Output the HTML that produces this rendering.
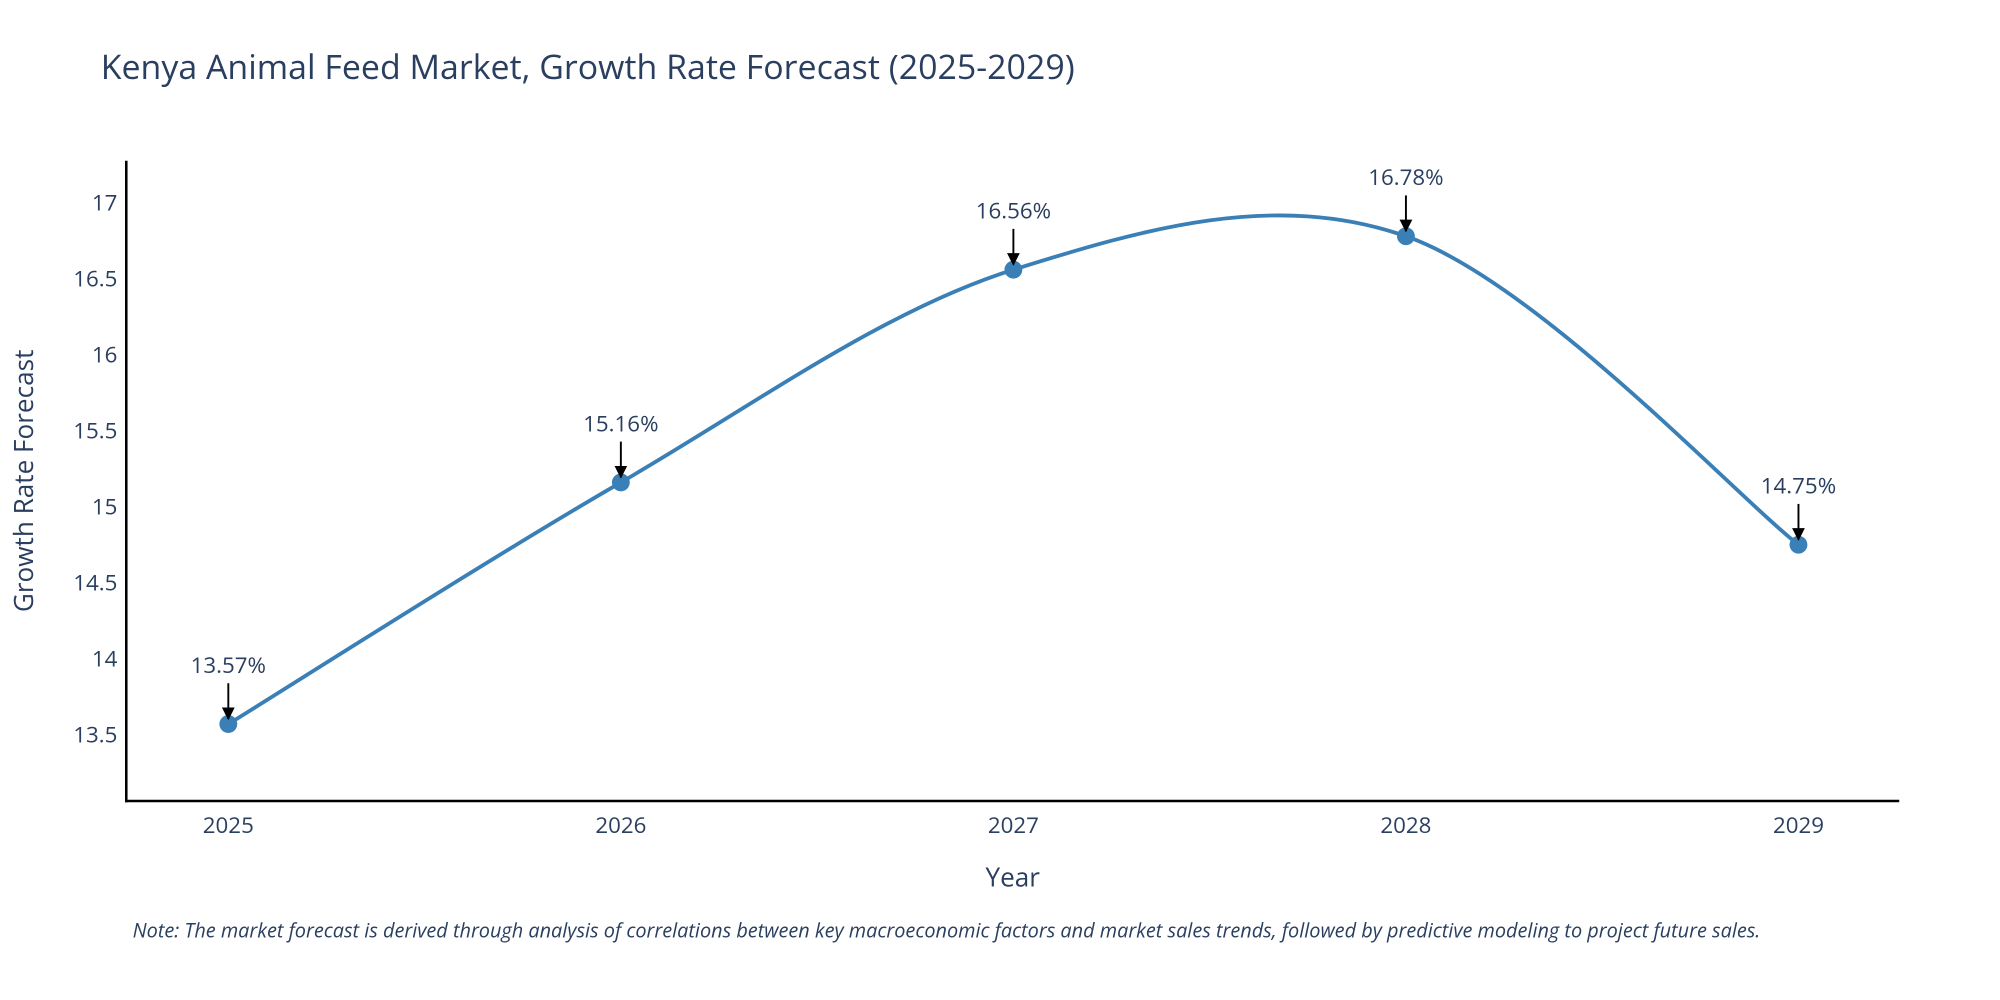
<!DOCTYPE html>
<html><head><meta charset="utf-8"><style>
html,body{margin:0;padding:0;background:#fff;}
svg{display:block;font-family:"Open Sans","Liberation Sans",sans-serif;}
</style></head><body>
<svg id="chart" width="2000" height="1000" viewBox="0 0 1568 784" xmlns="http://www.w3.org/2000/svg">
<defs><marker id="ah" markerWidth="10" markerHeight="10" refX="9" refY="5" orient="auto" markerUnits="userSpaceOnUse" viewBox="0 0 10 10"><path d="M0,0 L10,5 L0,10 z" fill="#000"/></marker></defs>
<text x="79" y="62" font-size="26.6" fill="#2a3f5f">Kenya Animal Feed Market, Growth Rate Forecast (2025-2029)</text>
<g id="yticks"></g>
<g id="xticks"></g>
<line x1="99" y1="126" x2="99" y2="629" stroke="#000" stroke-width="2"/>
<line x1="98" y1="628" x2="1489" y2="628" stroke="#000" stroke-width="2"/>
<text transform="translate(26,377) rotate(-90)" text-anchor="middle" font-size="20.5" fill="#2a3f5f">Growth Rate Forecast</text>
<text x="794" y="695" text-anchor="middle" font-size="20.5" fill="#2a3f5f">Year</text>
<path id="line" fill="none" stroke="#3a7fb5" stroke-width="3"/>
<g id="marks"></g>
<text x="104" y="735" font-size="15.6" font-style="italic" fill="#2a3f5f">Note: The market forecast is derived through analysis of correlations between key macroeconomic factors and market sales trends, followed by predictive modeling to project future sales.</text>
</svg>
<script>
const years = [2025, 2026, 2027, 2028, 2029];
const values = [13.57, 15.16, 16.56, 16.78, 14.75];
const yTickValues = [13.5, 14, 14.5, 15, 15.5, 16, 16.5, 17];
const yTickLabels = ["13.5", "14", "14.5", "15", "15.5", "16", "16.5", "17"];
const NS = "http://www.w3.org/2000/svg";
const xs = v => 179 + (v - 2025) * 307.75;
const ys = v => 576 - (v - 13.5) * (576 - 159) / 3.5;
function mk(tag, attrs, parent, txt) {
  const e = document.createElementNS(NS, tag);
  for (const k in attrs) e.setAttribute(k, attrs[k]);
  if (txt !== undefined) e.textContent = txt;
  parent.appendChild(e); return e;
}
const yt = document.getElementById('yticks');
yTickValues.forEach((v, i) => {
  const t = mk('text', {x: 92, y: ys(v) + 6, 'text-anchor': 'end', 'font-size': 17.5, fill: '#2a3f5f'}, yt, yTickLabels[i]);
  
  
});
const xt = document.getElementById('xticks');
years.forEach(y => {
  const t = mk('text', {x: xs(y), y: 653, 'text-anchor': 'middle', 'font-size': 17.5, fill: '#2a3f5f'}, xt, String(y));
  
  
});
const pts = years.map((y, i) => [xs(y), ys(values[i])]);
let d = `M${pts[0][0]},${pts[0][1]}`;
for (let i = 0; i < pts.length - 1; i++) {
  const p0 = pts[Math.max(0, i - 1)], p1 = pts[i], p2 = pts[i + 1], p3 = pts[Math.min(pts.length - 1, i + 2)];
  const c1 = [p1[0] + (p2[0] - p0[0]) / 6, p1[1] + (p2[1] - p0[1]) / 6];
  const c2 = [p2[0] - (p3[0] - p1[0]) / 6, p2[1] - (p3[1] - p1[1]) / 6];
  d += ` C${c1[0]},${c1[1]} ${c2[0]},${c2[1]} ${p2[0]},${p2[1]}`;
}
document.getElementById('line').setAttribute('d', d);
const mg = document.getElementById('marks');
pts.forEach((p, i) => {
  const c = mk('circle', {cx: p[0], cy: p[1], r: 7, fill: '#3a7fb5'}, mg);
  
  
  const a = mk('line', {x1: p[0], y1: p[1] - 32, x2: p[0], y2: p[1] - 4, stroke: '#000', 'stroke-width': 1.5, 'marker-end': 'url(#ah)'}, mg);
  
  
  const t = mk('text', {x: p[0], y: p[1] -40, 'text-anchor': 'middle', 'font-size': 17.5, fill: '#2a3f5f'}, mg, values[i].toFixed(2) + '%');
  
  
});
</script>
</body></html>
